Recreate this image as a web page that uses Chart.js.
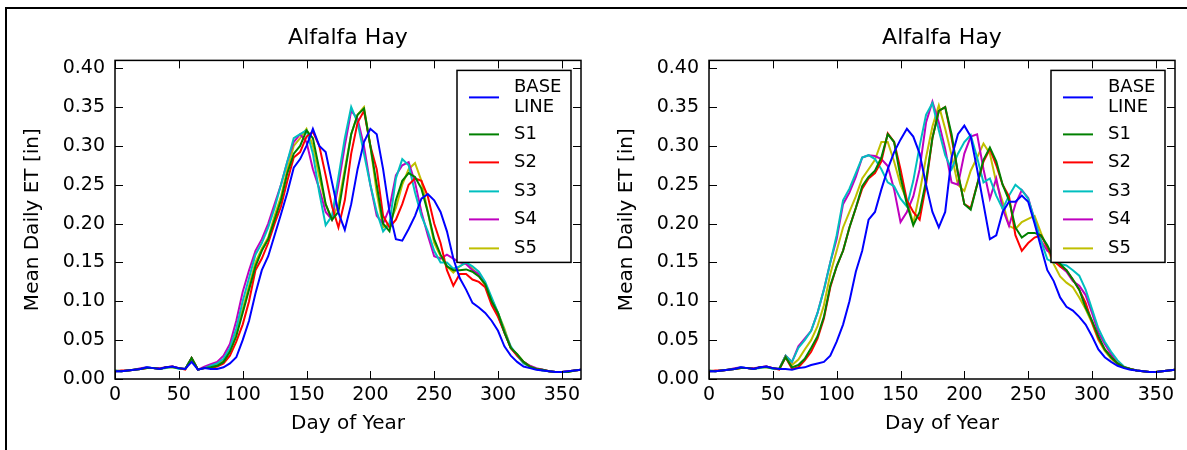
<!DOCTYPE html>
<html>
<head>
<meta charset="utf-8">
<script src="https://cdn.jsdelivr.net/npm/chart.js@4.4.1/dist/chart.umd.min.js"></script>
<style>
  html, body { margin: 0; padding: 0; background: #fff; }
  #page { position: relative; width: 1187px; height: 450px; overflow: hidden; }
  #frame { position: absolute; left: 5px; top: 7px; width: 1200px; height: 460px;
           border-left: 2px solid #000; border-top: 2px solid #000; }
  canvas { position: absolute; top: 0; }
  #leftChart { left: 0; }
  #rightChart { left: 594px; }
</style>
</head>
<body>
<div id="page">
  <div id="frame"></div>
  <canvas id="leftChart" width="593" height="450"></canvas>
  <canvas id="rightChart" width="593" height="450"></canvas>
</div>
<script>
/* Alfalfa Hay – mean daily ET, baseline vs. scenarios (two panels) */

// ─── Data ─────────────────────────────────────────────────────────────────────

const days = [
  0, 5, 10, 15, 20, 25, 30, 35, 40, 45, 50, 55,
  60, 65, 70, 75, 80, 85, 90, 95, 100, 105, 110, 115,
  120, 125, 130, 135, 140, 145, 150, 155, 160, 165, 170, 175,
  180, 185, 190, 195, 200, 205, 210, 215, 220, 225, 230, 235,
  240, 245, 250, 255, 260, 265, 270, 275, 280, 285, 290, 295,
  300, 305, 310, 315, 320, 325, 330, 335, 340, 345, 350, 355, 360, 365,
];

const seriesNames = ['BASE\nLINE', 'S1', 'S2', 'S3', 'S4', 'S5'];
const xTicks = [0, 50, 100, 150, 200, 250, 300, 350];
const yTicks = [0, 0.05, 0.10, 0.15, 0.20, 0.25, 0.30, 0.35, 0.40];

// left panel
const leftBase = [
  0.010, 0.010, 0.011, 0.012, 0.013, 0.015, 0.014, 0.013, 0.015, 0.016, 0.014, 0.013,
  0.022, 0.012, 0.014, 0.013, 0.013, 0.015, 0.020, 0.028, 0.050, 0.075, 0.110, 0.140,
  0.158, 0.185, 0.212, 0.240, 0.272, 0.283, 0.300, 0.322, 0.300, 0.292, 0.253, 0.214,
  0.192, 0.225, 0.270, 0.305, 0.322, 0.315, 0.270, 0.215, 0.180, 0.178, 0.193, 0.210,
  0.232, 0.238, 0.230, 0.215, 0.190, 0.155, 0.130, 0.115, 0.098, 0.092, 0.085, 0.075,
  0.062, 0.042, 0.030, 0.022, 0.016, 0.014, 0.012, 0.011, 0.010, 0.009, 0.009, 0.010, 0.011, 0.012,
];
const leftS1 = [
  0.011, 0.010, 0.011, 0.012, 0.013, 0.014, 0.014, 0.013, 0.015, 0.015, 0.014, 0.013,
  0.027, 0.012, 0.014, 0.015, 0.017, 0.022, 0.035, 0.055, 0.085, 0.115, 0.145, 0.165,
  0.180, 0.205, 0.230, 0.265, 0.290, 0.300, 0.320, 0.310, 0.270, 0.225, 0.205, 0.215,
  0.265, 0.315, 0.340, 0.348, 0.300, 0.250, 0.200, 0.190, 0.230, 0.255, 0.265, 0.260,
  0.245, 0.215, 0.180, 0.160, 0.145, 0.140, 0.140, 0.141, 0.138, 0.132, 0.122, 0.100,
  0.085, 0.060, 0.040, 0.032, 0.022, 0.016, 0.013, 0.012, 0.010, 0.009, 0.009, 0.009, 0.011, 0.012,
];
const leftS2 = [
  0.010, 0.011, 0.011, 0.012, 0.013, 0.014, 0.014, 0.013, 0.015, 0.016, 0.014, 0.012,
  0.027, 0.012, 0.014, 0.014, 0.016, 0.020, 0.030, 0.048, 0.070, 0.100, 0.140, 0.155,
  0.175, 0.200, 0.222, 0.255, 0.285, 0.292, 0.312, 0.318, 0.300, 0.262, 0.222, 0.195,
  0.230, 0.290, 0.330, 0.345, 0.300, 0.270, 0.210, 0.195, 0.205, 0.225, 0.250, 0.258,
  0.255, 0.235, 0.200, 0.175, 0.140, 0.120, 0.135, 0.135, 0.128, 0.125, 0.118, 0.095,
  0.080, 0.060, 0.040, 0.030, 0.022, 0.016, 0.013, 0.012, 0.010, 0.009, 0.009, 0.010, 0.011, 0.012,
];
const leftS3 = [
  0.010, 0.010, 0.011, 0.012, 0.013, 0.015, 0.014, 0.013, 0.014, 0.016, 0.013, 0.013,
  0.027, 0.012, 0.014, 0.017, 0.020, 0.026, 0.040, 0.065, 0.100, 0.130, 0.160, 0.175,
  0.195, 0.220, 0.250, 0.280, 0.310, 0.315, 0.320, 0.290, 0.240, 0.198, 0.210, 0.260,
  0.310, 0.350, 0.330, 0.290, 0.250, 0.215, 0.190, 0.200, 0.258, 0.283, 0.275, 0.240,
  0.210, 0.190, 0.165, 0.150, 0.150, 0.142, 0.145, 0.150, 0.145, 0.138, 0.125, 0.105,
  0.085, 0.062, 0.042, 0.030, 0.020, 0.016, 0.013, 0.011, 0.010, 0.009, 0.009, 0.010, 0.011, 0.012,
];
const leftS4 = [
  0.010, 0.010, 0.011, 0.012, 0.014, 0.015, 0.014, 0.014, 0.015, 0.016, 0.014, 0.013,
  0.027, 0.012, 0.016, 0.019, 0.022, 0.030, 0.045, 0.075, 0.112, 0.140, 0.165, 0.180,
  0.200, 0.225, 0.250, 0.280, 0.305, 0.315, 0.305, 0.270, 0.245, 0.215, 0.205, 0.250,
  0.300, 0.345, 0.335, 0.300, 0.250, 0.210, 0.200, 0.220, 0.262, 0.275, 0.279, 0.253,
  0.215, 0.185, 0.158, 0.155, 0.160, 0.155, 0.150, 0.148, 0.140, 0.135, 0.122, 0.100,
  0.082, 0.060, 0.040, 0.030, 0.022, 0.017, 0.014, 0.012, 0.010, 0.009, 0.009, 0.010, 0.011, 0.012,
];
const leftS5 = [
  0.010, 0.010, 0.011, 0.012, 0.013, 0.014, 0.014, 0.013, 0.015, 0.015, 0.014, 0.013,
  0.027, 0.012, 0.014, 0.016, 0.018, 0.024, 0.038, 0.060, 0.090, 0.120, 0.150, 0.168,
  0.182, 0.210, 0.235, 0.270, 0.300, 0.310, 0.322, 0.300, 0.260, 0.225, 0.205, 0.225,
  0.270, 0.315, 0.340, 0.350, 0.300, 0.240, 0.195, 0.200, 0.220, 0.250, 0.270, 0.278,
  0.255, 0.215, 0.175, 0.158, 0.145, 0.137, 0.145, 0.150, 0.142, 0.133, 0.120, 0.103,
  0.085, 0.065, 0.040, 0.032, 0.022, 0.017, 0.013, 0.011, 0.010, 0.009, 0.009, 0.009, 0.011, 0.012,
];

// right panel
const rightBase = [
  0.010, 0.010, 0.011, 0.012, 0.013, 0.015, 0.014, 0.013, 0.015, 0.016, 0.014, 0.013,
  0.013, 0.012, 0.014, 0.015, 0.018, 0.020, 0.022, 0.030, 0.048, 0.070, 0.100, 0.138,
  0.165, 0.205, 0.215, 0.244, 0.270, 0.292, 0.308, 0.322, 0.312, 0.290, 0.250, 0.215,
  0.195, 0.215, 0.285, 0.315, 0.326, 0.312, 0.270, 0.225, 0.180, 0.185, 0.215, 0.228,
  0.228, 0.236, 0.228, 0.200, 0.170, 0.140, 0.126, 0.105, 0.093, 0.088, 0.080, 0.070,
  0.055, 0.038, 0.028, 0.022, 0.017, 0.014, 0.012, 0.011, 0.010, 0.009, 0.009, 0.010, 0.011, 0.012,
];
const rightS1 = [
  0.011, 0.010, 0.011, 0.012, 0.013, 0.014, 0.014, 0.013, 0.015, 0.015, 0.014, 0.013,
  0.028, 0.015, 0.018, 0.026, 0.040, 0.055, 0.080, 0.120, 0.145, 0.165, 0.195, 0.220,
  0.248, 0.260, 0.268, 0.285, 0.315, 0.305, 0.260, 0.225, 0.198, 0.215, 0.255, 0.310,
  0.345, 0.350, 0.315, 0.265, 0.225, 0.218, 0.250, 0.282, 0.298, 0.280, 0.250, 0.230,
  0.195, 0.182, 0.188, 0.188, 0.185, 0.172, 0.155, 0.148, 0.140, 0.128, 0.115, 0.092,
  0.075, 0.055, 0.038, 0.028, 0.020, 0.015, 0.013, 0.011, 0.010, 0.009, 0.009, 0.010, 0.011, 0.012,
];
const rightS2 = [
  0.010, 0.011, 0.011, 0.012, 0.013, 0.014, 0.014, 0.013, 0.015, 0.016, 0.014, 0.012,
  0.028, 0.013, 0.015, 0.024, 0.035, 0.052, 0.078, 0.118, 0.145, 0.165, 0.195, 0.220,
  0.245, 0.258, 0.265, 0.280, 0.316, 0.305, 0.270, 0.230, 0.215, 0.205, 0.250, 0.310,
  0.345, 0.350, 0.310, 0.265, 0.225, 0.220, 0.250, 0.280, 0.296, 0.275, 0.250, 0.235,
  0.185, 0.165, 0.175, 0.182, 0.185, 0.170, 0.152, 0.145, 0.140, 0.128, 0.115, 0.098,
  0.073, 0.052, 0.038, 0.028, 0.020, 0.015, 0.013, 0.011, 0.010, 0.009, 0.009, 0.010, 0.011, 0.012,
];
const rightS3 = [
  0.010, 0.010, 0.011, 0.012, 0.013, 0.015, 0.014, 0.013, 0.014, 0.016, 0.013, 0.013,
  0.030, 0.022, 0.040, 0.050, 0.062, 0.085, 0.115, 0.150, 0.185, 0.230, 0.245, 0.265,
  0.285, 0.288, 0.283, 0.270, 0.253, 0.248, 0.232, 0.222, 0.255, 0.300, 0.340, 0.355,
  0.320, 0.288, 0.270, 0.290, 0.305, 0.314, 0.285, 0.253, 0.258, 0.236, 0.219, 0.236,
  0.250, 0.243, 0.232, 0.205, 0.178, 0.154, 0.150, 0.148, 0.146, 0.140, 0.133, 0.115,
  0.090, 0.065, 0.048, 0.035, 0.024, 0.016, 0.013, 0.011, 0.010, 0.009, 0.009, 0.010, 0.011, 0.012,
];
const rightS4 = [
  0.010, 0.010, 0.011, 0.012, 0.014, 0.015, 0.014, 0.014, 0.015, 0.016, 0.014, 0.013,
  0.030, 0.022, 0.042, 0.052, 0.062, 0.085, 0.115, 0.150, 0.180, 0.225, 0.240, 0.260,
  0.285, 0.288, 0.287, 0.283, 0.274, 0.244, 0.202, 0.215, 0.235, 0.270, 0.330, 0.357,
  0.330, 0.296, 0.253, 0.250, 0.290, 0.312, 0.315, 0.270, 0.232, 0.258, 0.219, 0.197,
  0.225, 0.243, 0.233, 0.205, 0.178, 0.165, 0.160, 0.145, 0.138, 0.126, 0.120, 0.108,
  0.085, 0.060, 0.045, 0.032, 0.020, 0.015, 0.013, 0.011, 0.010, 0.009, 0.009, 0.010, 0.011, 0.012,
];
const rightS5 = [
  0.010, 0.010, 0.011, 0.012, 0.013, 0.014, 0.014, 0.013, 0.015, 0.015, 0.014, 0.013,
  0.030, 0.018, 0.025, 0.038, 0.050, 0.068, 0.095, 0.135, 0.165, 0.195, 0.215, 0.235,
  0.258, 0.270, 0.282, 0.305, 0.305, 0.280, 0.250, 0.230, 0.200, 0.240, 0.285, 0.325,
  0.352, 0.322, 0.288, 0.250, 0.242, 0.268, 0.285, 0.303, 0.290, 0.253, 0.228, 0.197,
  0.193, 0.202, 0.206, 0.210, 0.188, 0.168, 0.148, 0.132, 0.124, 0.118, 0.105, 0.090,
  0.072, 0.050, 0.036, 0.026, 0.019, 0.015, 0.013, 0.011, 0.010, 0.009, 0.009, 0.010, 0.011, 0.012,
];

// ─── Style ────────────────────────────────────────────────────────────────────

const FONT = 'DejaVu Sans';
const seriesColors = ['#0000ff', '#008000', '#ff0000', '#00bfbf', '#bf00bf', '#bfbf00'];

// ─── Plugins ──────────────────────────────────────────────────────────────────

// matplotlib-like frame with inward ticks on all four sides, then the legend box
const frameAndLegend = {
  id: 'frameAndLegend',
  afterDatasetsDraw(chart) {
    const { ctx, chartArea: a, scales } = chart;
    const TICK = 8;
    ctx.save();
    ctx.strokeStyle = '#000';
    ctx.lineWidth = 1.5;
    ctx.strokeRect(a.left, a.top, a.right - a.left, a.bottom - a.top);

    ctx.lineWidth = 1;
    ctx.beginPath();
    for (const v of xTicks) {
      const x = Math.round(scales.x.getPixelForValue(v)) + 0.5;
      ctx.moveTo(x, a.bottom); ctx.lineTo(x, a.bottom - TICK);
      ctx.moveTo(x, a.top); ctx.lineTo(x, a.top + TICK);
    }
    for (const v of yTicks) {
      const y = Math.round(scales.y.getPixelForValue(v)) + 0.5;
      ctx.moveTo(a.left, y); ctx.lineTo(a.left + TICK, y);
      ctx.moveTo(a.right, y); ctx.lineTo(a.right - TICK, y);
    }
    ctx.stroke();

    // legend box, upper right
    const boxW = 114, boxH = 192;
    const bx = a.right - 10 - boxW;
    const by = a.top + 10;
    ctx.fillStyle = '#fff';
    ctx.fillRect(bx, by, boxW, boxH);
    ctx.lineWidth = 1.5;
    ctx.strokeRect(bx, by, boxW, boxH);

    const rowY = [27, 64, 92, 121, 149, 178];
    ctx.font = `18px "${FONT}"`;
    ctx.textBaseline = 'middle';
    ctx.textAlign = 'left';
    chart.data.datasets.forEach((ds, i) => {
      const y = by + rowY[i];
      ctx.strokeStyle = ds.borderColor;
      ctx.lineWidth = 2;
      ctx.beginPath();
      ctx.moveTo(bx + 12, y);
      ctx.lineTo(bx + 42, y);
      ctx.stroke();
      ctx.fillStyle = '#000';
      const lines = ds.label.split('\n');
      lines.forEach((t, k) => {
        ctx.fillText(t, bx + 57, y + (k - (lines.length - 1) / 2) * 20);
      });
    });
    ctx.restore();
  },
};

// ─── Chart factory ────────────────────────────────────────────────────────────

function makeChart(canvasId, series) {
  const tickFont = { family: FONT, size: 19 };
  const labelFont = { family: FONT, size: 20 };
  return new Chart(document.getElementById(canvasId), {
    type: 'line',
    data: {
      datasets: series.map((vals, i) => ({
        label: seriesNames[i],
        data: vals.map((v, j) => ({ x: days[j], y: v })),
        borderColor: seriesColors[i],
        borderWidth: 2,
        pointRadius: 0,
        tension: 0,
        fill: false,
      })),
    },
    options: {
      responsive: false,
      animation: false,
      events: [],
      layout: { padding: { left: 0, right: 12, top: 0, bottom: 0 } },
      scales: {
        x: {
          type: 'linear',
          min: 0,
          max: 365,
          afterBuildTicks: (s) => { s.ticks = xTicks.map((v) => ({ value: v })); },
          afterFit: (s) => { s.height = 71; },
          grid: { display: false, drawTicks: false },
          border: { display: false },
          ticks: { color: '#000', font: tickFont, padding: 5, maxRotation: 0, autoSkip: false,
                   callback: (v) => String(v) },
          title: { display: true, text: 'Day of Year', color: '#000', font: labelFont,
                   padding: { top: 0, bottom: 14 } },
        },
        y: {
          min: 0,
          max: 0.41,
          afterBuildTicks: (s) => { s.ticks = yTicks.map((v) => ({ value: v })); },
          afterFit: (s) => { s.width = 115; },
          grid: { display: false, drawTicks: false },
          border: { display: false },
          ticks: { color: '#000', font: tickFont, padding: 10, autoSkip: false,
                   callback: (v) => v.toFixed(2) },
          title: { display: true, text: 'Mean Daily ET [in]', color: '#000', font: labelFont,
                   padding: { top: 21, bottom: 0 } },
        },
      },
      plugins: {
        legend: { display: false },
        tooltip: { enabled: false },
        title: {
          display: true,
          text: 'Alfalfa Hay',
          fullSize: false,
          color: '#000',
          font: { family: FONT, size: 22, weight: 'normal' },
          padding: { top: 25, bottom: 9 },
        },
      },
    },
    plugins: [frameAndLegend],
  });
}

// ─── Init ─────────────────────────────────────────────────────────────────────

makeChart('leftChart', [leftBase, leftS1, leftS2, leftS3, leftS4, leftS5]);
makeChart('rightChart', [rightBase, rightS1, rightS2, rightS3, rightS4, rightS5]);
</script>
</body>
</html>
